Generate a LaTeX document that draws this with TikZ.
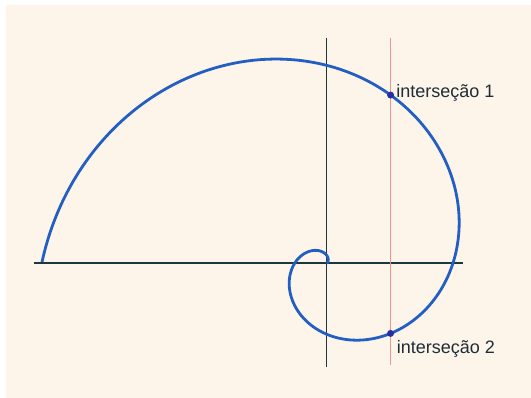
\documentclass[tikz,border=0pt]{standalone}
\usepackage{fontspec}
\setmainfont{Liberation Sans}
\definecolor{bgbeige}{RGB}{253,245,234}
\definecolor{spiralblue}{RGB}{35,95,195}
\definecolor{axisgray}{RGB}{30,55,60}
\definecolor{linered}{RGB}{230,150,150}
\definecolor{ptblue}{RGB}{40,45,160}
\definecolor{lblgray}{RGB}{30,45,55}

\begin{document}
\begin{tikzpicture}[x=3.205pt,y=3.205pt,
  axis/.style={axisgray,line width=1.6pt},
  redline/.style={linered,line width=1.7pt},
  spiral/.style={spiralblue,line width=2.8pt},
  ipoint/.style={circle,fill=ptblue,inner sep=0pt,minimum size=7pt},
  ilabel/.style={text=lblgray,inner sep=0pt,font=\fontsize{18}{20}\selectfont}]
% fundo
\fill[white] (-101.87,-42.12) rectangle (63.81,82.06);
\fill[bgbeige] (-100,-42.12) rectangle (63.81,80.5);

% eixos
\coordinate (O) at (0,0);
\coordinate (xl) at (-91.3,0);
\coordinate (xr) at (42.6,0);
\coordinate (yt) at (0,70.2);
\coordinate (yb) at (0,-32.4);
\draw[axis] (xl)--(xr);
\draw[axis] (yt)--(yb);

% reta x=20
\coordinate (rt) at (20,70.2);
\coordinate (rb) at (20,-31.8);
\draw[redline] (rt)--(rb);

% espiral r=t^2
\draw[spiral] plot[domain=0:3*pi,samples=300,smooth] ({deg(\x)}:{\x*\x});

% intersecoes
\node[ipoint] (p1) at ({deg(7.4894)}:{7.4894*7.4894}) {};
\node[ipoint] (p2) at ({deg(5.4508)}:{5.4508*5.4508}) {};
\node[ilabel,anchor=base west] (l1) at ([shift={(5.5pt,-2.5pt)}]p1.center) {interseção 1};
\node[ilabel,anchor=base west] (l2) at ([shift={(6pt,-20pt)}]p2.center) {interseção 2};
\end{tikzpicture}
\end{document}
